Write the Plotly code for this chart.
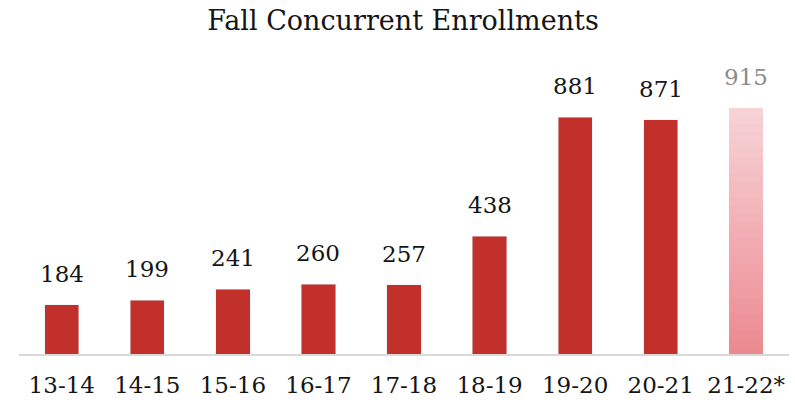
"""
Fall concurrent enrollments bar chart.
"""

import plotly.graph_objects as go

years = ["13-14", "14-15", "15-16", "16-17", "17-18", "18-19", "19-20", "20-21", "21-22*"]
enrollments = [184, 199, 241, 260, 257, 438, 881, 871, 915]

FONT = "DejaVu Serif"
RED = "#C1302B"

fig = go.Figure()

# actual years in solid red
fig.add_trace(go.Bar(
    x=years[:-1],
    y=enrollments[:-1],
    marker_color=RED,
    hoverinfo="skip",
))

# projected year: faded gradient made of stacked slices
n_slices = 30
top_rgb = (247, 211, 214)
bottom_rgb = (236, 138, 146)
for i in range(n_slices):
    t = i / (n_slices - 1)
    rgb = tuple(round(b + (tp - b) * t) for b, tp in zip(bottom_rgb, top_rgb))
    fig.add_trace(go.Bar(
        x=[years[-1]],
        y=[enrollments[-1] / n_slices],
        marker=dict(color="rgb(%d,%d,%d)" % rgb, line_width=0),
        hoverinfo="skip",
    ))

for yr, val in zip(years, enrollments):
    fig.add_annotation(
        x=yr, y=val, text=str(val), showarrow=False,
        yanchor="bottom", yshift=16,
        font=dict(family=FONT, size=23,
                  color="#8C8C8C" if yr == years[-1] else "#151515"),
    )

fig.update_layout(
    title=dict(text="Fall Concurrent Enrollments", x=0.507, xanchor="center",
               y=0.951, yanchor="middle",
               font=dict(family=FONT, size=27, color="#151515")),
    barmode="stack",
    bargap=0.6,
    showlegend=False,
    width=795,
    height=412,
    margin=dict(l=19, r=6, t=60, b=58),
    plot_bgcolor="white",
    paper_bgcolor="white",
    xaxis=dict(showline=True, linecolor="#D9D9D9", linewidth=2,
               ticks="", ticklabelstandoff=9, automargin=False,
               tickfont=dict(family=FONT, size=23, color="#151515")),
    yaxis=dict(visible=False, range=[0, 1093], showgrid=False, zeroline=False),
)

# drop the browser's default 8px body margin so the figure fills the window
fig.write_html(
    "out.html",
    config={"displayModeBar": False},
    post_script="document.body.style.margin = '0';",
)
